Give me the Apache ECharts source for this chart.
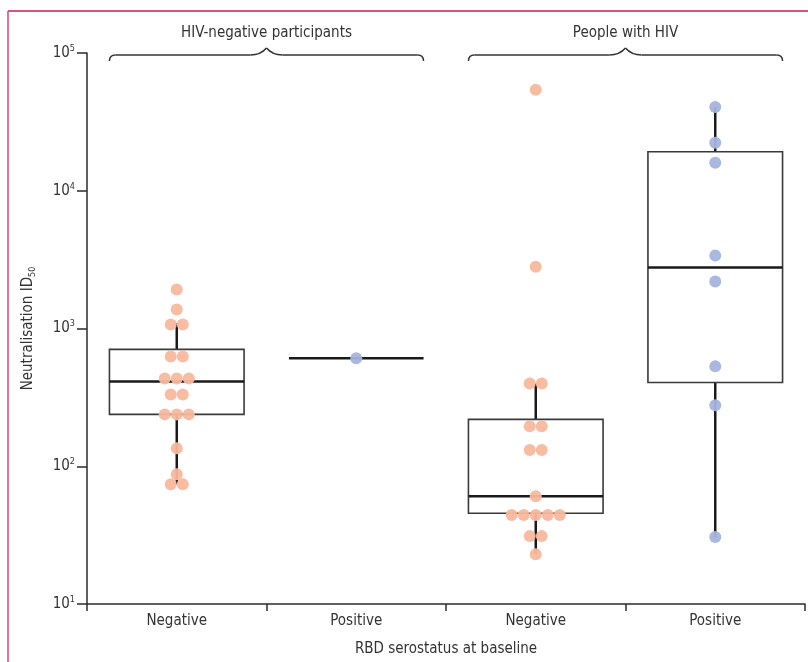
<!DOCTYPE html>
<html>
<head>
<meta charset="utf-8">
<script src="https://cdn.jsdelivr.net/npm/echarts@6/dist/echarts.min.js"></script>
<style>
html,body{margin:0;padding:0;background:#fff;}
#c{width:808px;height:662px;}
</style>
</head>
<body>
<div id="c"></div>
<script>
// ---- data ----
var categories = ['Negative', 'Positive', 'Negative', 'Positive'];
var groupTitles = ['HIV-negative participants', 'People with HIV'];
var yTickValues = [10, 100, 1000, 10000, 100000];

var hivNegSeroNeg = [1918, 1374, 1069, 1069, 626, 626, 434, 434, 434, 332, 332, 238, 238, 238, 135, 87.5, 74, 74];
var hivNegSeroPos = [607];
var pwhSeroNeg = [54000, 2812, 399, 399, 195, 195, 131, 131, 60.6, 44.2, 44.2, 44.2, 44.2, 44.2, 31.1, 31.1, 23];
var pwhSeroPos = [40600, 22300, 15960, 3381, 2193, 531, 277, 30.6];

// box stats: [whiskerLow, Q1, median, Q3, whiskerHigh]
var boxNegNeg = [74, 238, 413, 705, 1090];
var boxNegPos = [607, 607, 607, 607, 607];
var boxPwhNeg = [23, 45.6, 60.6, 219, 399];
var boxPwhPos = [30.6, 406, 2767, 19200, 40600];

var orange = '#f8b89d';
var blue = '#a5b3dc';
var FONT = '"Liberation Sans Narrow", "DejaVu Sans Condensed", "Noto Sans", sans-serif';

// ---- build ----
var boxes = [boxNegNeg, boxNegPos, boxPwhNeg, boxPwhPos];
var BOX_W = 0.75;     // fraction of band
var DOT_STEP = 0.067; // fraction of band between neighbouring dots

function swarm(vals, idx) {
  var counts = {}, seen = {}, out = [];
  vals.forEach(function (v) { counts[v] = (counts[v] || 0) + 1; });
  vals.forEach(function (v) {
    var n = counts[v], k = seen[v] || 0; seen[v] = k + 1;
    out.push([idx + (k - (n - 1) / 2) * DOT_STEP, v]);
  });
  return out;
}
var orangeDots = swarm(hivNegSeroNeg, 0).concat(swarm(pwhSeroNeg, 2));
var blueDots = swarm(hivNegSeroPos, 1).concat(swarm(pwhSeroPos, 3));
var boxData = boxes.map(function (b, i) { return [i].concat(b); });

var chart = echarts.init(document.getElementById('c'), null, {renderer: 'canvas'});
var axisColor = '#2b2b2b';

chart.setOption({
  animation: false,
  textStyle: {fontFamily: FONT},
  grid: {left: 87, right: 3, top: 53, bottom: 54, containLabel: false},
  xAxis: [{
    type: 'category',
    data: categories,
    boundaryGap: true,
    axisLine: {onZero: false, lineStyle: {color: axisColor, width: 1.5}},
    axisTick: {show: true, length: 7, lineStyle: {color: axisColor, width: 1.5}},
    axisLabel: {color: '#333', fontSize: 15, margin: 10, fontFamily: FONT},
    name: 'RBD serostatus at baseline',
    nameLocation: 'middle',
    nameGap: 38,
    nameTextStyle: {color: '#333', fontSize: 15, fontFamily: FONT},
    splitLine: {show: false}
  }, {
    type: 'value', min: -0.5, max: 3.5, show: false
  }],
  yAxis: {
    type: 'log',
    logBase: 10,
    min: 10,
    max: 100000,
    axisLine: {show: true, onZero: false, lineStyle: {color: axisColor, width: 1.5}},
    axisTick: {show: true, length: 10, lineStyle: {color: axisColor, width: 1.5}},
    minorTick: {show: false},
    splitLine: {show: false},
    axisLabel: {
      color: '#333', fontSize: 15, margin: 12, fontFamily: FONT,
      formatter: function (v) {
        if (yTickValues.indexOf(v) < 0) return '';
        return '10{s|' + Math.round(Math.log10(v)) + '}';
      },
      rich: {s: {fontSize: 9, verticalAlign: 'bottom', padding: [0, 0, 9, 0], color: '#333', fontFamily: FONT}}
    },
    name: 'Neutralisation ID{sub|50}',
    nameLocation: 'middle',
    nameGap: 50,
    nameRotate: 90,
    nameTextStyle: {
      color: '#333', fontSize: 15, fontFamily: FONT,
      rich: {sub: {fontSize: 9, verticalAlign: 'top', padding: [9, 0, 0, 0], color: '#333', fontFamily: FONT}}
    }
  },
  series: [{
    type: 'custom',
    xAxisIndex: 0,
    z: 2,
    data: boxData,
    encode: {x: 0, y: [1, 2, 3, 4, 5]},
    renderItem: function (params, api) {
      var i = api.value(0);
      var half = api.size([1, 0])[0] * BOX_W / 2;
      var lo = api.coord([i, api.value(1)]);
      var q1 = api.coord([i, api.value(2)]);
      var md = api.coord([i, api.value(3)]);
      var q3 = api.coord([i, api.value(4)]);
      var hi = api.coord([i, api.value(5)]);
      var cx = md[0];
      var children = [];
      children.push({type: 'line', shape: {x1: cx, y1: hi[1], x2: cx, y2: q3[1]},
        style: {stroke: '#1a1a1a', lineWidth: 2.5}});
      children.push({type: 'line', shape: {x1: cx, y1: q1[1], x2: cx, y2: lo[1]},
        style: {stroke: '#1a1a1a', lineWidth: 2.5}});
      if (Math.abs(q1[1] - q3[1]) > 0.5) {
        children.push({type: 'rect', shape: {x: cx - half, y: q3[1], width: 2 * half, height: q1[1] - q3[1]},
          style: {fill: 'rgba(255,255,255,0)', stroke: '#3a3a3a', lineWidth: 1.6}});
      }
      children.push({type: 'line', shape: {x1: cx - half, y1: md[1], x2: cx + half, y2: md[1]},
        style: {stroke: '#1a1a1a', lineWidth: 2.5}});
      return {type: 'group', children: children};
    }
  }, {
    type: 'scatter',
    xAxisIndex: 1,
    z: 3,
    symbolSize: 12,
    itemStyle: {color: orange, opacity: 0.95},
    data: orangeDots
  }, {
    type: 'scatter',
    xAxisIndex: 1,
    z: 3,
    symbolSize: 12,
    itemStyle: {color: blue, opacity: 0.95},
    data: blueDots
  }]
});

// ---- decorations: frame and group braces ----
function braceElements(x1, x2, y) {
  var xm = (x1 + x2) / 2;
  var st = {stroke: '#333', lineWidth: 1.5, fill: null};
  function bz(ax, ay, cx, cy, bx, by) {
    return {type: 'bezierCurve', shape: {x1: ax, y1: ay, cpx1: cx, cpy1: cy, x2: bx, y2: by}, style: st};
  }
  function ln(ax, ay, bx, by) {
    return {type: 'line', shape: {x1: ax, y1: ay, x2: bx, y2: by}, style: st};
  }
  return [
    bz(x1, y + 6, x1, y, x1 + 6, y),
    ln(x1 + 6, y, xm - 16, y),
    bz(xm - 16, y, xm - 6, y, xm, y - 7),
    bz(xm, y - 7, xm + 6, y, xm + 16, y),
    ln(xm + 16, y, x2 - 6, y),
    bz(x2 - 6, y, x2, y, x2, y + 6)
  ];
}
var bandW = chart.convertToPixel({xAxisIndex: 0}, 1) - chart.convertToPixel({xAxisIndex: 0}, 0);
var halfBox = bandW * BOX_W / 2;
var gfx = [
  {type: 'line', shape: {x1: 8, y1: 11, x2: 808, y2: 11}, style: {stroke: '#c61f4c', lineWidth: 1.5}},
  {type: 'line', shape: {x1: 8, y1: 11, x2: 8, y2: 662}, style: {stroke: '#d6437a', lineWidth: 1.5}}
];
[[0, 1], [2, 3]].forEach(function (pair, gi) {
  var xa = chart.convertToPixel({xAxisIndex: 0}, pair[0]) - halfBox;
  var xb = chart.convertToPixel({xAxisIndex: 0}, pair[1]) + halfBox;
  gfx = gfx.concat(braceElements(xa, xb, 55));
  gfx.push({type: 'text', x: (xa + xb) / 2, y: 33,
    style: {text: groupTitles[gi], fill: '#333', font: '15px ' + FONT, textAlign: 'center', textVerticalAlign: 'middle'}});
});
chart.setOption({graphic: gfx});
</script>
</body>
</html>
